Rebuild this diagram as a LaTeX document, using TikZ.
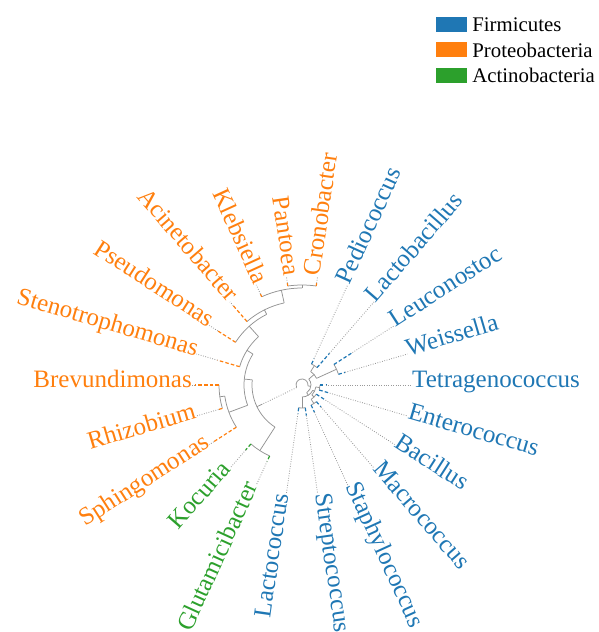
\documentclass[tikz,border=0pt]{standalone}
\usepackage{fontspec}
\setmainfont{Liberation Serif}
\usetikzlibrary{positioning}
\definecolor{firmi}{HTML}{1F77B4}
\definecolor{proteo}{HTML}{FF7F0E}
\definecolor{actino}{HTML}{2CA02C}
\tikzset{
  branch/.style={gray!85, line width=0.75pt},
  guide/.style={gray!80, line width=0.85pt, dash pattern=on 0.8pt off 1.6pt},
  tipline/.style={line width=1.2pt, dash pattern=on 3.5pt off 2.2pt},
  taxon/.style={font=\fontsize{25}{25}\selectfont, inner sep=0pt},
  legbox/.style={minimum width=31pt, minimum height=15pt, inner sep=0pt},
  legtext/.style={font=\fontsize{20.8}{21}\selectfont, inner sep=0pt}
}

\begin{document}
\begin{tikzpicture}[x=1pt,y=1pt]
\useasboundingbox (-302,-247) rectangle (297,385);

% arcs of the inner nodes: start/end/radius
\foreach \sa/\ea/\rr in {81.818/98.182/100, 90/114.545/97, 102.27/130.909/84,
    116.59/147.273/79, 131.93/163.636/65, 180/196.364/83, 188.18/212.727/78,
    147.78/200.45/58, 229.091/245.455/78, 174.12/237.27/50,
    16.364/32.727/38, 49.091/65.455/23, 24.55/57.27/16, -16.364/0/18,
    -65.455/-49.091/22, -57.27/-32.727/17, -45/-8.18/14, -98.182/-81.818/23,
    -90/-26.59/12, -58.30/40.91/9, -8.69/205.70/6}
  \draw[branch] (\sa:\rr pt) arc[start angle=\sa, end angle=\ea, radius=\rr pt];

% radial stems: angle/inner/outer
\foreach \ang/\ri/\ro in {90/97/100, 102.27/84/97, 116.59/79/84, 131.93/65/79,
    147.78/58/65, 188.18/78/83, 200.45/58/78, 174.12/50/58, 237.27/50/78,
    24.55/16/38, 57.27/16/23, 40.91/9/16, -8.18/14/18, -57.27/17/22,
    -45/14/17, -26.59/12/14, -90/12/23, -58.30/9/12, -8.69/6/9}
  \draw[branch] (\ang:\ri pt) -- (\ang:\ro pt);

% root stem
\coordinate (root) at (205.70:6pt);
\coordinate (bigclade) at (205.70:44pt);
\draw[guide] (root) -- (bigclade);
\draw[branch] (bigclade) -- (205.70:50pt);

% leaves, labels on the right
\foreach \ang/\pr/\tr/\col/\nm in {
    0/18/24/firmi/Tetragenococcus, 16.364/38/45/firmi/Weissella,
    32.727/38/60/firmi/Leuconostoc, 49.091/23/42/firmi/Lactobacillus,
    65.455/23/29/firmi/Pediococcus, 81.818/100/103/proteo/Cronobacter,
    -81.818/23/31/firmi/Streptococcus, -65.455/22/30/firmi/Staphylococcus,
    -49.091/22/29/firmi/Macrococcus, -32.727/17/28/firmi/Bacillus,
    -16.364/18/29/firmi/Enterococcus}
{
  \draw[tipline,\col] (\ang:\pr pt) -- (\ang:\tr pt) coordinate (tip\nm);
  \node[taxon, text=\col, anchor=mid west, rotate=\ang] (\nm) at (\ang:110pt) {\nm};
  \draw[guide] (tip\nm) -- (\nm.mid west);
}

% leaves, labels on the left
\foreach \ang/\pr/\tr/\col/\nm in {
    98.182/100/103/proteo/Pantoea, 114.545/97/100/proteo/Klebsiella,
    130.909/84/105/proteo/Acinetobacter, 147.273/79/100/proteo/Pseudomonas,
    163.636/65/88/proteo/Stenotrophomonas, 180/83/107/proteo/Brevundimonas,
    196.364/83/87/proteo/Rhizobium, 212.727/78/105/proteo/Sphingomonas,
    229.091/78/86/actino/Kocuria, 245.455/78/84/actino/Glutamicibacter,
    261.818/23/29/firmi/Lactococcus}
{
  \draw[tipline,\col] (\ang:\pr pt) -- (\ang:\tr pt) coordinate (tip\nm);
  \node[taxon, text=\col, anchor=mid east, rotate=\ang+180] (\nm) at (\ang:110pt) {\nm};
  \draw[guide] (tip\nm) -- (\nm.mid east);
}

% legend
\node[legbox, fill=firmi] (keyF) at (149.5,360.5) {};
\node[legbox, fill=proteo] (keyP) at (149.5,335) {};
\node[legbox, fill=actino] (keyA) at (149.5,309.5) {};
\node[legtext, right=5pt of keyF] (labF) {Firmicutes};
\node[legtext, right=5pt of keyP] (labP) {Proteobacteria};
\node[legtext, right=5pt of keyA] (labA) {Actinobacteria};
\end{tikzpicture}
\end{document}
